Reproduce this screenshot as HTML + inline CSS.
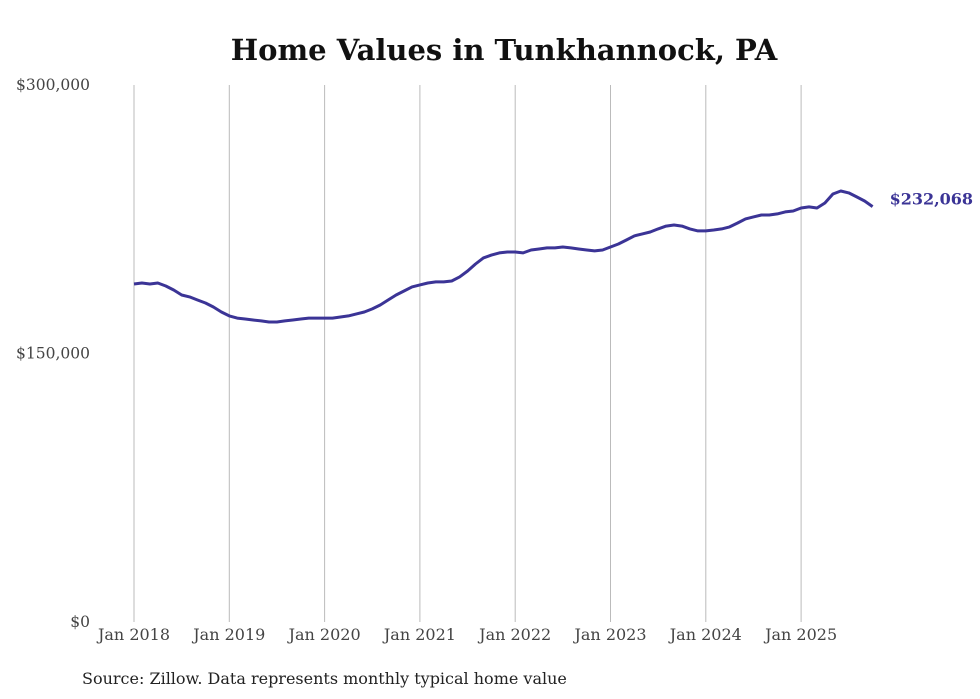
<!DOCTYPE html>
<html><head><meta charset="utf-8">
<style>
body{margin:0;background:#fff;}
svg{display:block;font-family:"DejaVu Serif","Liberation Serif",serif;}
</style></head>
<body>
<svg id="chart" width="980" height="699">
<text x="504" y="60" text-anchor="middle" font-size="29" font-weight="bold" fill="#111">Home Values in Tunkhannock, PA</text>
<g id="grid"></g>
<g id="yaxis"></g>
<g id="xaxis"></g>
<path id="line" fill="none" stroke="#3b3496" stroke-width="3" stroke-linejoin="round"/>
<text id="endLabel" font-size="16" font-weight="bold" fill="#3b3496"></text>
<text x="82" y="684" font-size="16" fill="#222">Source: Zillow. Data represents monthly typical home value</text>
</svg>
<script>
const startYear = 2018;
const values = [188.8,189.4,188.8,189.4,187.7,185.5,182.7,181.6,179.9,178.2,176.0,173.2,
171.0,169.8,169.3,168.7,168.2,167.6,167.6,168.2,168.7,169.3,169.8,169.8,
169.8,169.8,170.4,171.0,172.1,173.2,174.9,177.1,179.9,182.7,184.9,187.2,
188.3,189.4,190.0,190.0,190.5,192.8,196.1,200.0,203.4,205.0,206.2,206.7,
206.7,206.2,207.8,208.4,209.0,209.0,209.5,209.0,208.4,207.8,207.3,207.8,
209.5,211.2,213.4,215.7,216.8,217.9,219.6,221.2,221.8,221.2,219.6,218.5,
218.5,219.0,219.6,220.7,222.9,225.2,226.3,227.4,227.4,228.0,229.1,229.6,
231.3,231.9,231.3,234.1,239.1,240.8,239.7,237.5,235.2,232.068];
const yTicks = [0,150000,300000];
const yTickLabels = ["$0","$150,000","$300,000"];
const xTickYears = [2018,2019,2020,2021,2022,2023,2024,2025];
const lastLabel = "$232,068";

const NS="http://www.w3.org/2000/svg";
const x0=134, pxPerYear=95.3, yTop=85, yBot=622, yMax=300000;
function xPos(m){return x0+m*pxPerYear/12;}
function yPos(v){return yBot-(v/yMax)*(yBot-yTop);}
const grid=document.getElementById('grid'), ya=document.getElementById('yaxis'), xa=document.getElementById('xaxis');
yTicks.forEach((t,i)=>{
  const tx=document.createElementNS(NS,'text');
  tx.setAttribute('x',90);tx.setAttribute('y',yPos(t)+5);tx.setAttribute('text-anchor','end');
  tx.setAttribute('font-size','15.5');tx.setAttribute('fill','#444');
  tx.textContent=yTickLabels[i];
  
  
  ya.appendChild(tx);
});
xTickYears.forEach(yr=>{
  const x=xPos((yr-startYear)*12);
  const l=document.createElementNS(NS,'line');
  l.setAttribute('x1',x);l.setAttribute('x2',x);l.setAttribute('y1',yTop);l.setAttribute('y2',yBot);
  l.setAttribute('stroke','#bbb');l.setAttribute('stroke-width','1');
  
  
  grid.appendChild(l);
  const tx=document.createElementNS(NS,'text');
  tx.setAttribute('x',x);tx.setAttribute('y',640);tx.setAttribute('text-anchor','middle');
  tx.setAttribute('font-size','16');tx.setAttribute('fill','#444');
  tx.textContent='Jan '+yr;
  
  
  xa.appendChild(tx);
});
let d='';
values.forEach((v,i)=>{d+=(i?'L':'M')+xPos(i).toFixed(1)+','+yPos(v*1000).toFixed(1);});
document.getElementById('line').setAttribute('d',d);
const n=values.length-1;
const el=document.getElementById('endLabel');
el.setAttribute('x',xPos(n)+17);el.setAttribute('y',yPos(values[n]*1000)-2);
el.textContent=lastLabel;
</script>
</body></html>
